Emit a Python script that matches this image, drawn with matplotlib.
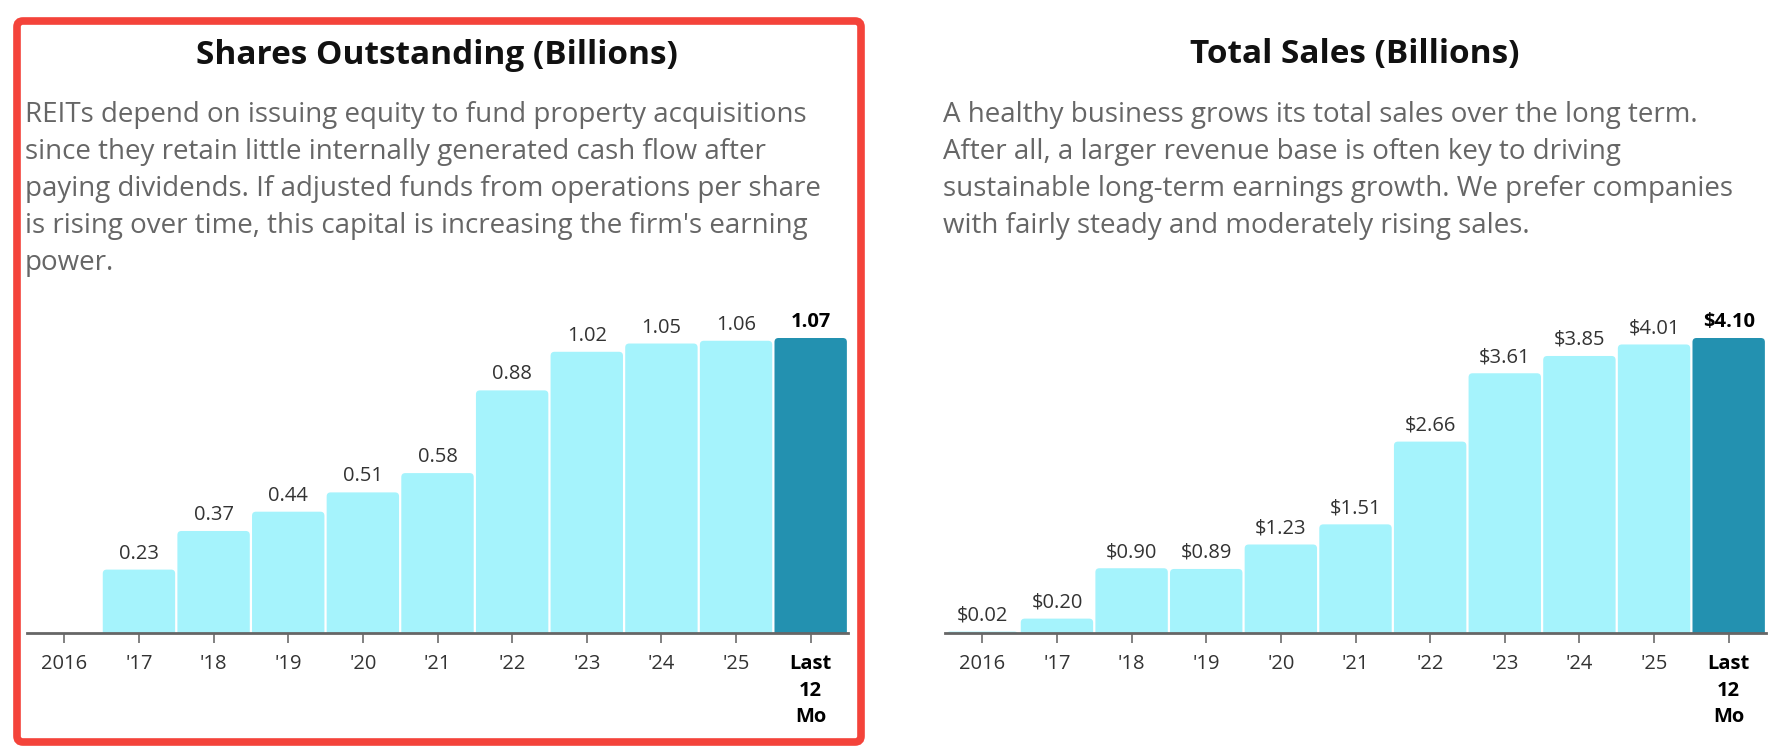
import matplotlib
matplotlib.use("Agg")
import matplotlib.pyplot as plt
from matplotlib.patches import FancyBboxPatch
from matplotlib.transforms import IdentityTransform
import numpy as np

# ---------------- data ----------------
categories = ["2016", "'17", "'18", "'19", "'20", "'21", "'22", "'23", "'24", "'25", "Last\n12\nMo"]
shares_values = [np.nan, 0.23, 0.37, 0.44, 0.51, 0.58, 0.88, 1.02, 1.05, 1.06, 1.07]
shares_labels = ["", "0.23", "0.37", "0.44", "0.51", "0.58", "0.88", "1.02", "1.05", "1.06", "1.07"]
sales_values = [0.02, 0.20, 0.90, 0.89, 1.23, 1.51, 2.66, 3.61, 3.85, 4.01, 4.10]
sales_labels = ["$0.02", "$0.20", "$0.90", "$0.89", "$1.23", "$1.51", "$2.66", "$3.61", "$3.85", "$4.01", "$4.10"]

title_left = "Shares Outstanding (Billions)"
title_right = "Total Sales (Billions)"
text_left = [
    "REITs depend on issuing equity to fund property acquisitions",
    "since they retain little internally generated cash flow after",
    "paying dividends. If adjusted funds from operations per share",
    "is rising over time, this capital is increasing the firm's earning",
    "power.",
]
text_right = [
    "A healthy business grows its total sales over the long term.",
    "After all, a larger revenue base is often key to driving",
    "sustainable long-term earnings growth. We prefer companies",
    "with fairly steady and moderately rising sales.",
]

# ---------------- style ----------------
W, H, DPI = 1778, 756, 100
LIGHT = "#a5f3fc"
DARK = "#2391b0"
BODY_GRAY = "#666666"
LABEL_GRAY = "#333333"
AXIS_GRAY = "#666666"
FONT = "Open Sans"

plt.rcParams["font.family"] = [FONT, "DejaVu Sans"]

fig = plt.figure(figsize=(W / DPI, H / DPI), dpi=DPI)
fig.patch.set_facecolor("white")
renderer = fig.canvas.get_renderer()


def fit_size(text, target_px, weight="normal", base=16):
    t = fig.text(0, 0, text, fontsize=base, fontweight=weight, family=FONT)
    w = t.get_window_extent(renderer=renderer).width
    t.remove()
    return base * target_px / w


title_fs = fit_size(title_left, 482, weight="bold")
body_fs = fit_size(text_left[0], 783)
tick_fs = 14.5
value_fs = 14.5

line_ys = [115, 152, 189, 226, 263]


def panel(x_left, x_right, title_cx, title, lines, values, labels, text_x):
    fig.text(title_cx / W, 1 - 55 / H, title,
             fontsize=title_fs, fontweight="bold", color="#111111",
             ha="center", va="center")
    for y, ln in zip(line_ys, lines):
        fig.text(text_x / W, 1 - y / H, ln, fontsize=body_fs, color=BODY_GRAY,
                 ha="left", va="center")

    top, bottom = 290, 633
    ax = fig.add_axes([x_left / W, 1 - bottom / H, (x_right - x_left) / W, (bottom - top) / H])
    n = len(categories)
    x = np.arange(n)
    vmax = np.nanmax(values)
    ymax = vmax * (bottom - top) / 295.0
    ax.set_xlim(-0.5, n - 0.5)
    ax.set_ylim(0, ymax)

    colors = [LIGHT] * (n - 1) + [DARK]
    bars = ax.bar(x, np.nan_to_num(values), width=0.97, color=colors, linewidth=0)
    px_x = n / (x_right - x_left)             # data units per px (x)
    px_y = ymax / (bottom - top)              # data units per px (y)
    r_px = 4.0
    for b, c in zip(bars, colors):
        h = b.get_height()
        b.remove()
        if h <= 0:
            continue
        p = FancyBboxPatch((b.get_x(), -r_px * px_y), b.get_width(), h + r_px * px_y,
                           boxstyle=f"round,pad=0,rounding_size={r_px * px_x}",
                           mutation_aspect=px_y / px_x,
                           facecolor=c, edgecolor="none", clip_on=True)
        ax.add_patch(p)

    for i, (v, lab) in enumerate(zip(values, labels)):
        if lab == "":
            continue
        last = i == n - 1
        ax.annotate(lab, (i, v), xytext=(0, 6), textcoords="offset pixels",
                    ha="center", va="bottom", fontsize=value_fs,
                    fontweight="bold" if last else "normal",
                    color="#000000" if last else LABEL_GRAY, annotation_clip=False)

    for s in ["top", "right", "left"]:
        ax.spines[s].set_visible(False)
    ax.spines["bottom"].set_color(AXIS_GRAY)
    ax.spines["bottom"].set_linewidth(2)
    ax.set_yticks([])
    ax.set_xticks(x)
    ax.set_xticklabels(categories, fontsize=tick_fs, color=LABEL_GRAY, linespacing=1.45)
    ax.tick_params(axis="x", length=7, width=1.3, color="#777777", pad=8)
    lbl = ax.get_xticklabels()[-1]
    lbl.set_fontweight("bold")
    lbl.set_color("#000000")
    ax.set_facecolor("none")
    return ax


panel(27, 848, 437, title_left, text_left, shares_values, shares_labels, 25)
panel(945, 1766, 1355, title_right, text_right, sales_values, sales_labels, 943)

# red highlight border around left panel
border = FancyBboxPatch((17, H - 742), 844, 721,
                        boxstyle="round,pad=0,rounding_size=6",
                        transform=IdentityTransform(), facecolor="none",
                        edgecolor="#f4433a", linewidth=5.5)
fig.patches.append(border)

fig.savefig("out.png", dpi=DPI)
